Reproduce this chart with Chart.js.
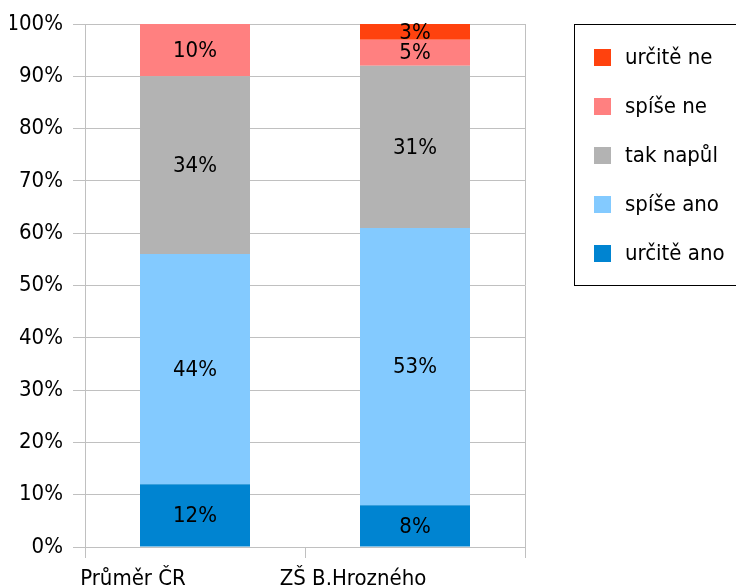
<!DOCTYPE html>
<html>
<head>
<meta charset="utf-8">
<script src="https://cdn.jsdelivr.net/npm/chart.js@4/dist/chart.umd.min.js"></script>
<style>
  html, body { margin: 0; padding: 0; background: #fff; }
  #wrap { width: 736px; height: 588px; }
</style>
</head>
<body>
<div id="wrap"><canvas id="chart" width="736" height="588"></canvas></div>
<script>
const categories = ['Průměr ČR', 'ZŠ B.Hrozného'];
const seriesNames = ['určitě ano', 'spíše ano', 'tak napůl', 'spíše ne', 'určitě ne'];
const urciteAno = [12, 8];
const spiseAno = [44, 53];
const takNapul = [34, 31];
const spiseNe = [10, 5];
const urciteNe = [0, 3];
const yTicks = [0, 10, 20, 30, 40, 50, 60, 70, 80, 90, 100];

const colors = ['#0084d1', '#83caff', '#b3b3b3', '#ff8080', '#ff420e'];
const values = [urciteAno, spiseAno, takNapul, spiseNe, urciteNe];
const font = "'DejaVu Sans Condensed', sans-serif";
const gridColor = '#c0c0c0';

// value labels in the middle of each segment
const valueLabels = {
  id: 'valueLabels',
  afterDatasetsDraw(chart) {
    const ctx = chart.ctx;
    ctx.save();
    ctx.font = '22px ' + font;
    ctx.fillStyle = '#000';
    ctx.textAlign = 'center';
    ctx.textBaseline = 'middle';
    chart.data.datasets.forEach((ds, i) => {
      chart.getDatasetMeta(i).data.forEach((bar, j) => {
        if (!ds.data[j]) return;
        ctx.fillText(ds.data[j] + '%', bar.x, (bar.y + bar.base) / 2 + 1);
      });
    });
    ctx.restore();
  }
};

// boxed legend on the right, top series first
const boxLegend = {
  id: 'boxLegend',
  afterDraw(chart) {
    const ctx = chart.ctx;
    ctx.save();
    ctx.strokeStyle = '#000';
    ctx.lineWidth = 1;
    ctx.strokeRect(574.5, 24.5, 200, 261);
    ctx.font = '22px ' + font;
    ctx.textBaseline = 'middle';
    const ds = chart.data.datasets.slice().reverse();
    ds.forEach((d, i) => {
      const cy = 57 + i * 49;
      ctx.fillStyle = d.backgroundColor;
      ctx.fillRect(594, cy - 8, 17, 17);
      ctx.fillStyle = '#000';
      ctx.fillText(d.label, 625, cy + 1);
    });
    ctx.restore();
  }
};

new Chart(document.getElementById('chart'), {
  type: 'bar',
  data: {
    labels: categories,
    datasets: seriesNames.map((name, i) => ({
      label: name,
      data: values[i],
      backgroundColor: colors[i],
      borderWidth: 0,
      categoryPercentage: 1,
      barPercentage: 0.5
    }))
  },
  options: {
    responsive: false,
    animation: false,
    layout: { padding: { left: 10, right: 211, top: 24, bottom: 0 } },
    plugins: {
      legend: { display: false },
      tooltip: { enabled: false }
    },
    scales: {
      x: {
        stacked: true,
        afterFit: (axis) => { axis.height = 41; },
        grid: {
          color: (c) => c.index === 1 ? 'rgba(0,0,0,0)' : gridColor,
          tickColor: gridColor,
          tickLength: 11,
          offset: true
        },
        border: { color: gridColor },
        ticks: {
          color: '#000',
          font: { family: font, size: 22, lineHeight: 1 },
          labelOffset: -62,
          padding: 10,
          maxRotation: 0
        }
      },
      y: {
        stacked: true,
        min: 0,
        max: 100,
        afterFit: (axis) => { axis.width = 75; axis.paddingTop = 0; axis.paddingBottom = 0; },
        afterBuildTicks: (axis) => { axis.ticks = yTicks.map(v => ({ value: v })); },
        grid: { color: gridColor, tickLength: 12 },
        border: { color: gridColor },
        ticks: {
          color: '#000',
          font: { family: font, size: 22 },
          padding: 10,
          callback: (v) => v + '%'
        }
      }
    }
  },
  plugins: [valueLabels, boxLegend]
});
</script>
</body>
</html>
